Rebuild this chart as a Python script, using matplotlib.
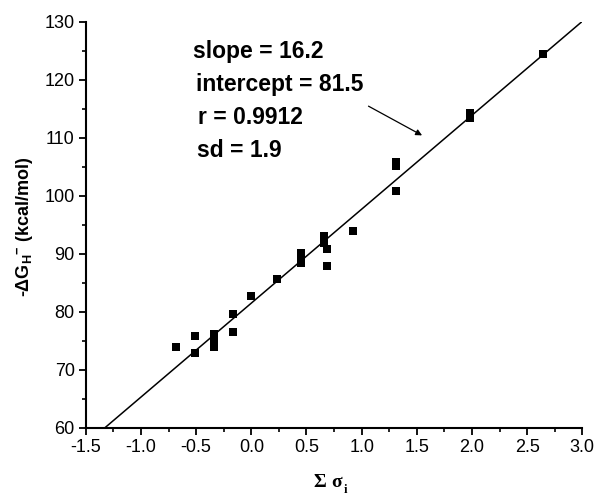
import matplotlib
matplotlib.use("Agg")
import matplotlib.pyplot as plt
import numpy as np
from matplotlib.ticker import MultipleLocator

plt.rcParams['font.family'] = ['Liberation Sans', 'DejaVu Sans']
plt.rcParams['mathtext.fontset'] = 'custom'
plt.rcParams['mathtext.rm'] = 'Liberation Sans:bold'
plt.rcParams['mathtext.it'] = 'Liberation Sans:bold:italic'
plt.rcParams['mathtext.bf'] = 'Liberation Sans:bold'

# --- data ---
sigma = [-0.68, -0.51, -0.51, -0.34, -0.34, -0.34, -0.17, -0.17, 0.00, 0.23,
         0.45, 0.45, 0.45, 0.66, 0.66, 0.66, 0.69, 0.69, 0.92,
         1.31, 1.31, 1.31, 1.98, 1.98, 2.64]
dG = [74.0, 75.8, 72.9, 76.1, 75.2, 73.9, 79.6, 76.6, 82.8, 85.6,
      90.1, 89.3, 88.5, 93.1, 92.4, 91.8, 90.8, 87.9, 93.9,
      105.9, 105.2, 100.9, 114.3, 113.5, 124.4]

slope = 16.2
intercept = 81.5
fit_text = ["slope = 16.2", "intercept = 81.5", "r = 0.9912", "sd = 1.9"]

fig = plt.figure(figsize=(5.96, 4.98), dpi=100)
ax = fig.add_axes([0.144, 0.141, 0.833, 0.815])

xs = np.array([-1.5, 3.0])
ax.plot(xs, slope * xs + intercept, color='black', lw=1.1, zorder=2)
ax.scatter(sigma, dG, marker='s', s=30, color='black', zorder=3, linewidths=0)

ax.set_xlim(-1.5, 3.0)
ax.set_ylim(60, 130)
ax.xaxis.set_minor_locator(MultipleLocator(0.25))
ax.yaxis.set_major_locator(MultipleLocator(10))
ax.yaxis.set_minor_locator(MultipleLocator(5))
xt = np.arange(-1.5, 3.01, 0.5)
ax.set_xticks(xt)
ax.set_xticklabels([f"{v:.1f}" for v in xt])

for s in ['top', 'right']:
    ax.spines[s].set_visible(False)
for s in ['left', 'bottom']:
    ax.spines[s].set_linewidth(1.5)
ax.tick_params(which='major', direction='out', length=5, width=1.3, labelsize=13, pad=3)
ax.tick_params(which='minor', direction='out', length=3, width=1.2)

ax.set_ylabel(r"-$\Delta$G$_{\rm H}$$^{-}$ (kcal/mol)", fontsize=13, fontweight='bold')
ax.yaxis.set_label_coords(-0.103, 0.495)

# x label: serif bold, drawn piece by piece
xl_kw = dict(family='Liberation Serif', fontweight='bold', ha='left', va='center')
fig.text(313 / 596, 1 - 482 / 498, "Σ", fontsize=14, **xl_kw)
fig.text(331 / 596, 1 - 482 / 498, "σ", fontsize=14, **xl_kw)
fig.text(344 / 596, 1 - 490 / 498, "i", fontsize=9, **xl_kw)

text_x = [0.216, 0.222, 0.226, 0.224]
text_y = [0.926, 0.845, 0.764, 0.682]
for t, xx, yy in zip(fit_text, text_x, text_y):
    ax.text(xx, yy, t, transform=ax.transAxes, fontsize=16.5, fontweight='bold', va='center')

ax.annotate("", xy=(1.57, 110.2), xytext=(1.04, 115.7),
            arrowprops=dict(arrowstyle='-|>', color='black', lw=0.9, mutation_scale=9))

fig.savefig("out.png", dpi=100)
